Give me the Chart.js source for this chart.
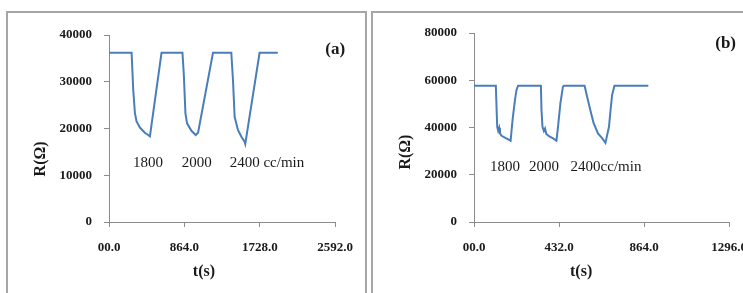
<!DOCTYPE html>
<html>
<head>
<meta charset="utf-8">
<script src="https://cdn.jsdelivr.net/npm/chart.js@4.4.1/dist/chart.umd.min.js"></script>
<style>
  html, body { margin: 0; padding: 0; background: #fff; overflow: hidden; width: 743px; height: 293px; }
  .panel { position: absolute; box-sizing: border-box; border: 2px solid #a6a6a6; }
  #panelA { left: 6px; top: 11px; width: 361px; height: 300px; }
  #panelB { left: 371px; top: 11px; width: 400px; height: 300px; }
  canvas { position: absolute; top: 0; }
  #chartA { left: 0; }
  #chartB { left: 372px; }
</style>
</head>
<body>
<div class="panel" id="panelA"></div>
<div class="panel" id="panelB"></div>
<canvas id="chartA" width="366" height="293"></canvas>
<canvas id="chartB" width="420" height="293"></canvas>
<script>
// panel (a): time in s, resistance in ohm
const timeA = [0, 259, 278, 297, 316, 354, 411, 449, 469, 602, 842, 857, 876, 895, 945, 994, 1021, 1192,
  1402, 1421, 1440, 1478, 1516, 1554, 1562, 1726, 1935];
const resA = [36200, 36200, 28200, 23300, 21500, 20200, 19100, 18600, 18300, 36200, 36200, 31800, 23300, 21100,
  19500, 18600, 19100, 36200, 36200, 30400, 22500, 19700, 18300, 17200, 16700, 36200, 36200];

// panel (b)
const timeB = [0, 111, 115, 118, 123, 128, 132, 140, 157, 174, 186, 196, 208, 216, 224, 340, 343, 348, 355, 361,
  368, 385, 402, 419, 427, 439, 452, 457, 562, 575, 591, 608, 630, 652, 668, 686, 694, 702, 714, 886];
const resB = [57700, 57700, 47400, 40300, 38600, 39900, 37500, 36500, 35700, 35000, 34400, 43200, 51600, 55900,
  57700, 57700, 47400, 40300, 38500, 39600, 37200, 36100, 35400, 34400, 40300, 50200, 57300, 57700, 57700, 53000,
  47400, 41800, 37500, 35400, 33500, 40300, 47400, 53800, 57700, 57700];

const flowLabelsA = ['1800', '2000', '2400 cc/min'];
const flowTimesA = [274, 834, 1383];
const flowLabelsB = ['1800', '2000', '2400cc/min'];
const flowTimesB = [81, 279, 491];

const xTitle = 't(s)';
const yTitle = 'R(\u03A9)';

const axisColor = '#8c8c8c';
const textColor = '#1a1a1a';
const serif = '"Liberation Serif", "Times New Roman", serif';

const extraText = {
  id: 'extraText',
  afterDraw(chart, args, opts) {
    const { ctx, chartArea, scales } = chart;
    ctx.save();
    ctx.fillStyle = textColor;
    ctx.textBaseline = 'middle';

    ctx.font = '15px ' + serif;
    ctx.textAlign = 'left';
    opts.notes.forEach((n, i) => {
      ctx.fillText(n, scales.x.getPixelForValue(opts.noteX[i]), scales.y.getPixelForValue(opts.noteY));
    });

    ctx.font = 'bold 17px ' + serif;
    ctx.fillText(opts.tag, scales.x.getPixelForValue(opts.tagX), scales.y.getPixelForValue(opts.tagY));

    ctx.font = 'bold 16px ' + serif;
    ctx.textAlign = 'center';
    ctx.fillText(xTitle, chartArea.left + 0.42 * (chartArea.right - chartArea.left), chartArea.bottom + 50);

    ctx.translate(chartArea.left - 68, scales.y.getPixelForValue(opts.yTitleAt));
    ctx.rotate(-Math.PI / 2);
    ctx.fillText(yTitle, 0, 0);
    ctx.restore();
  }
};

function makeChart(id, times, values, cfg) {
  return new Chart(document.getElementById(id), {
    type: 'line',
    data: {
      datasets: [{
        data: times.map((t, i) => ({ x: t, y: values[i] })),
        borderColor: '#4a7ebb',
        borderWidth: 2,
        pointRadius: 0,
        tension: 0,
        fill: false
      }]
    },
    options: {
      responsive: false,
      animation: false,
      layout: { padding: { top: cfg.padTop, right: cfg.padRight, left: 0, bottom: 0 } },
      plugins: {
        legend: { display: false },
        tooltip: { enabled: false },
        extraText: cfg.text
      },
      scales: {
        x: {
          type: 'linear',
          min: 0,
          max: cfg.xMax,
          afterFit: s => { s.height = 71; },
          afterBuildTicks: s => {
            s.ticks = [];
            for (let v = 0; v <= cfg.xMax; v += cfg.xStep) s.ticks.push({ value: v });
          },
          ticks: {
            color: textColor,
            padding: 13,
            maxRotation: 0,
            font: { family: serif, size: 13, weight: 'bold' },
            callback: v => (v === 0 ? '00.0' : v.toFixed(1))
          },
          grid: { drawOnChartArea: false, drawTicks: true, tickLength: 5, color: axisColor },
          border: { display: true, color: axisColor, width: 1 }
        },
        y: {
          min: 0,
          max: cfg.yMax,
          afterFit: s => { s.width = cfg.yWidth; },
          ticks: {
            stepSize: cfg.yStep,
            color: textColor,
            padding: 12,
            font: { family: serif, size: 13, weight: 'bold' },
            callback: v => String(v)
          },
          grid: { drawOnChartArea: false, drawTicks: true, tickLength: 5, color: axisColor },
          border: { display: true, color: axisColor, width: 1 }
        }
      }
    },
    plugins: [extraText]
  });
}

makeChart('chartA', timeA, resA, {
  xMax: 2592, xStep: 864, yMax: 40000, yStep: 10000, yWidth: 109, padTop: 35, padRight: 30,
  text: { notes: flowLabelsA, noteX: flowTimesA, noteY: 12600, tag: '(a)', tagX: 2480, tagY: 36800, yTitleAt: 13500 }
});

makeChart('chartB', timeB, resB, {
  xMax: 1296, xStep: 432, yMax: 80000, yStep: 20000, yWidth: 102, padTop: 33, padRight: 63,
  text: { notes: flowLabelsB, noteX: flowTimesB, noteY: 23300, tag: '(b)', tagX: 1226, tagY: 75300, yTitleAt: 29600 }
});
</script>
</body>
</html>
